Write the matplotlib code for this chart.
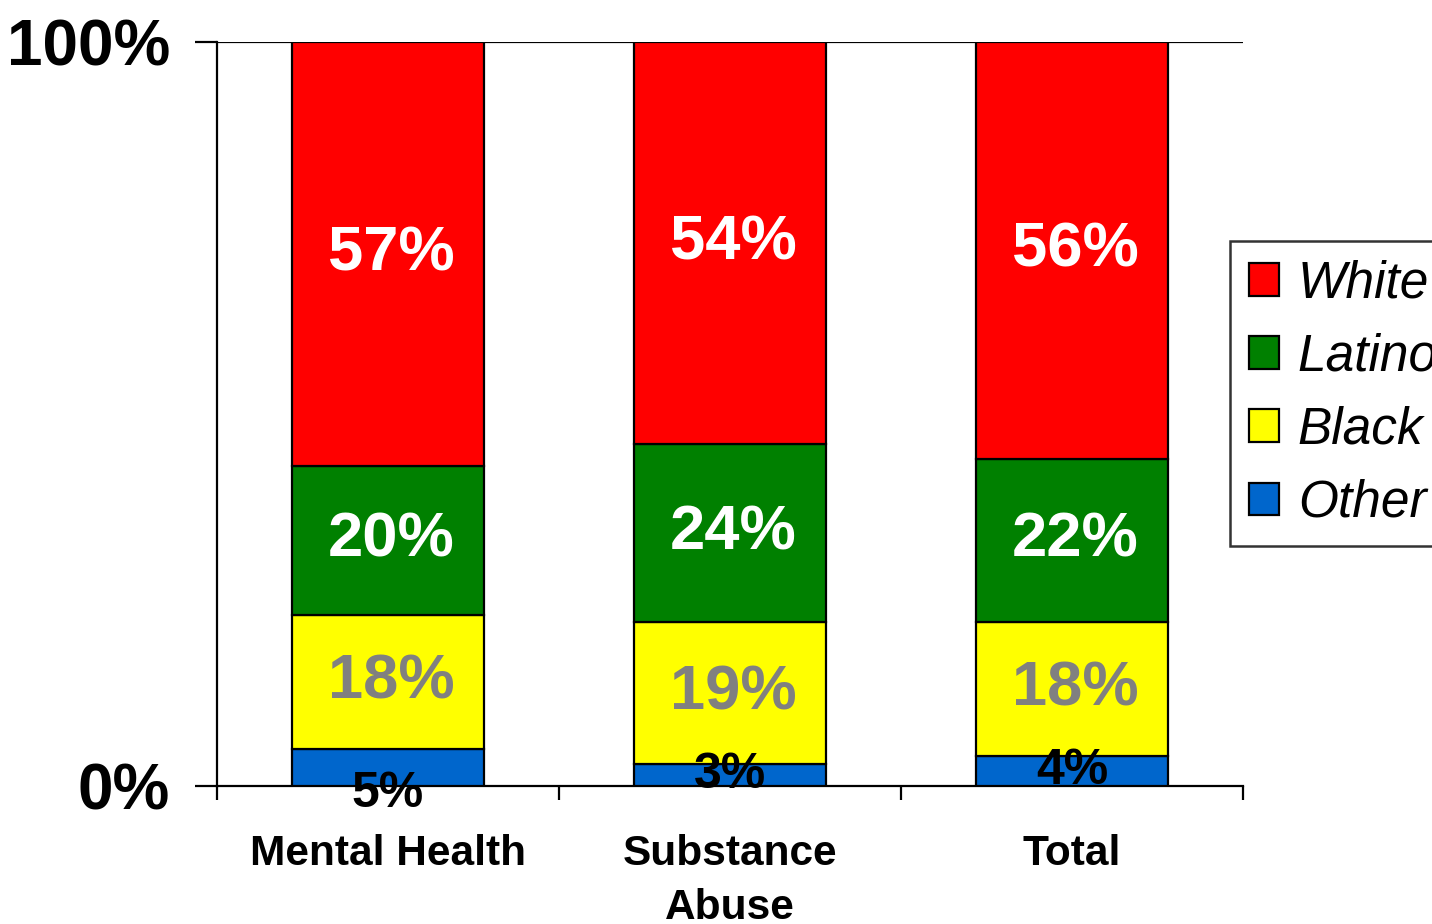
import matplotlib.pyplot as plt
from matplotlib.transforms import blended_transform_factory

# Data
categories = ['Mental Health', 'Substance\nAbuse', 'Total']
groups = ['Other', 'Black', 'Latino', 'White']
other = [5, 3, 4]
black = [18, 19, 18]
latino = [20, 24, 22]
white = [57, 54, 56]

series = [other, black, latino, white]
colors = ['#0066CC', '#FFFF00', '#008000', '#FF0000']
label_colors = ['black', '#808080', 'white', 'white']

plt.rcParams['font.family'] = ['Liberation Sans', 'DejaVu Sans']

fig = plt.figure(figsize=(14.32, 9.24), dpi=100)
ax = fig.add_axes([217 / 1432, 1 - 786 / 924, 1026 / 1432, 744 / 924])

x = list(range(len(categories)))
bottom = [0, 0, 0]
handles = {}
for name, vals, col, lcol in zip(groups, series, colors, label_colors):
    bars = ax.bar(x, vals, width=0.56, bottom=bottom, color=col,
                  edgecolor='black', linewidth=1.6, zorder=3)
    handles[name] = bars
    for i, v in enumerate(vals):
        yc = bottom[i] + v / 2
        if name == 'Other':
            # small segment labels, first one sits a little lower
            dy = -19 if i == 0 else 0
            ax.annotate(f'{v}%', (x[i], yc), xytext=(0, dy), textcoords='offset points',
                        ha='center', va='center', fontsize=36, fontweight='bold',
                        color=lcol, zorder=5)
        else:
            ax.text(x[i] + 0.01, yc, f'{v}%', ha='center', va='center', fontsize=45.5,
                    fontweight='bold', color=lcol, zorder=5)
    bottom = [b + v for b, v in zip(bottom, vals)]

ax.set_xlim(-0.5, 2.5)
ax.set_ylim(0, 100)

# y axis
ax.set_yticks([0, 100])
ax.set_yticklabels(['0%', '100%'], fontsize=46, fontweight='bold')
ax.tick_params(axis='y', direction='out', length=16, width=1.6, pad=18)
ax.axhline(100, color='black', linewidth=1.6, zorder=2)

# x axis: ticks between categories, labels as text
ax.set_xticks([-0.5, 0.5, 1.5, 2.5])
ax.set_xticklabels([])
ax.tick_params(axis='x', direction='out', length=10, width=1.6)
trans = blended_transform_factory(ax.transData, ax.transAxes)
for i, c in enumerate(categories):
    ax.text(x[i], -0.064, c, transform=trans, ha='center', va='top',
            fontsize=30.5, fontweight='bold', linespacing=1.45)

for s in ['top', 'right']:
    ax.spines[s].set_visible(False)
for s in ['left', 'bottom']:
    ax.spines[s].set_linewidth(1.6)

leg = fig.legend([handles[g] for g in ['White', 'Latino', 'Black', 'Other']],
                 ['White', 'Latino', 'Black', 'Other'],
                 loc='upper left', bbox_to_anchor=(1230 / 1432, 1 - 241 / 924),
                 prop={'size': 37, 'style': 'italic'}, frameon=True, fancybox=False,
                 edgecolor='black', borderpad=0.36, labelspacing=0.47,
                 handlelength=0.6, handleheight=0.6, handletextpad=0.36,
                 borderaxespad=0)
leg.get_frame().set_linewidth(1.8)

plt.savefig('out.png', dpi=100)
